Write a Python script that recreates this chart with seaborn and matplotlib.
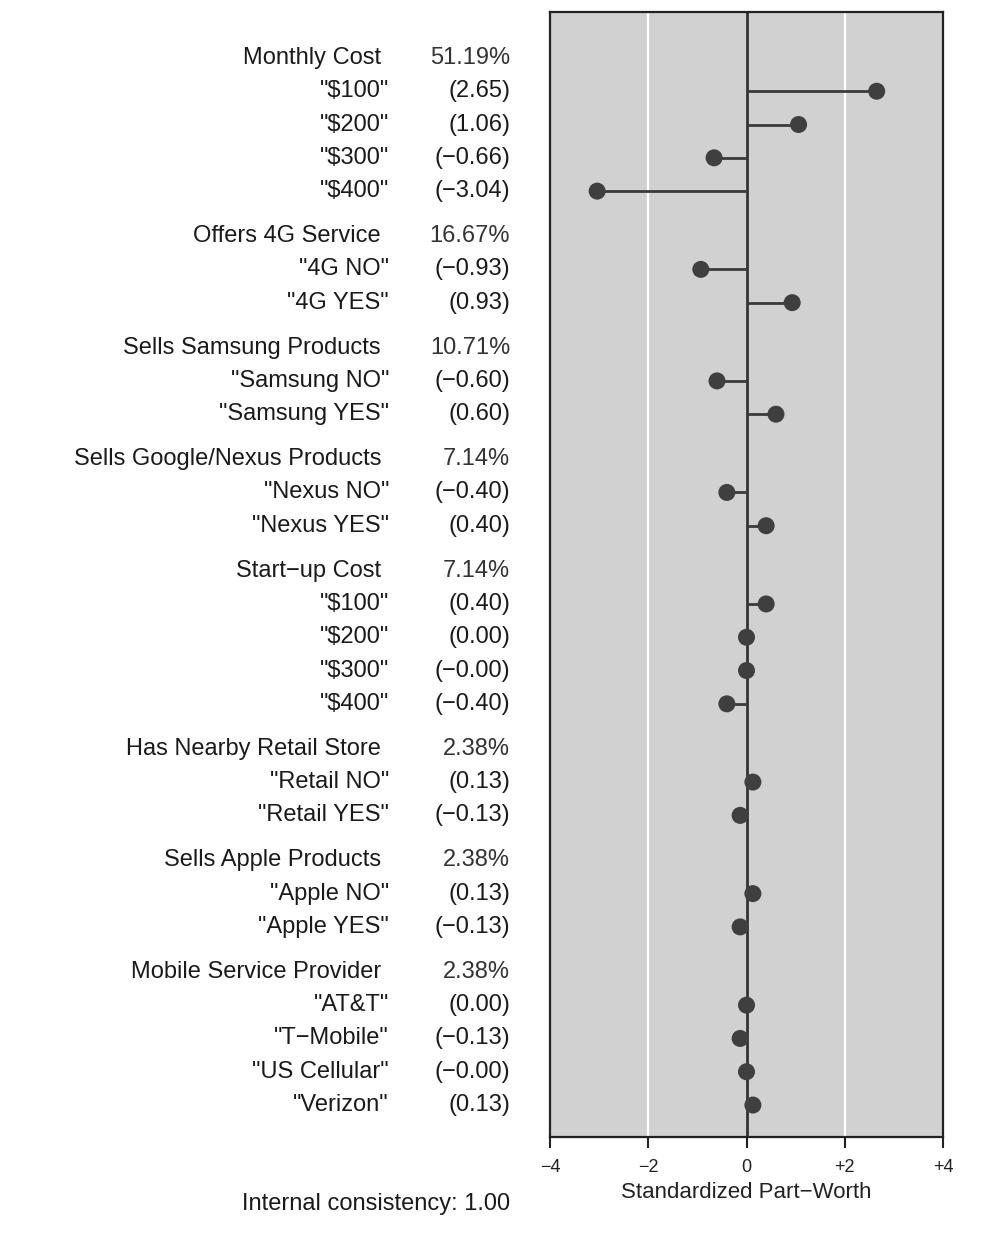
import numpy as np
import pandas as pd
import matplotlib
matplotlib.use("Agg")
import matplotlib.pyplot as plt
import matplotlib.transforms as mtransforms
import seaborn as sns

# attribute headers and their relative importance (%)
attributes = ['Monthly Cost', 'Offers 4G Service', 'Sells Samsung Products',
              'Sells Google/Nexus Products', 'Start\u2212up Cost',
              'Has Nearby Retail Store', 'Sells Apple Products',
              'Mobile Service Provider']
importance = [51.19, 16.67, 10.71, 7.14, 7.14, 2.38, 2.38, 2.38]

# levels of each attribute
levels = [
    ['$100', '$200', '$300', '$400'],
    ['4G NO', '4G YES'],
    ['Samsung NO', 'Samsung YES'],
    ['Nexus NO', 'Nexus YES'],
    ['$100', '$200', '$300', '$400'],
    ['Retail NO', 'Retail YES'],
    ['Apple NO', 'Apple YES'],
    ['AT&T', 'T\u2212Mobile', 'US Cellular', 'Verizon'],
]
# standardized part-worths
part_worths = [
    [2.65, 1.06, -0.66, -3.04],
    [-0.93, 0.93],
    [-0.60, 0.60],
    [-0.40, 0.40],
    [0.40, 0.00, -0.0, -0.40],
    [0.13, -0.13],
    [0.13, -0.13],
    [0.00, -0.13, -0.0, 0.13],
]
consistency = 1.00

# build row positions (header row, then levels; extra gap between groups)
rows = []
headers = []
y = 0.0
for i, attr in enumerate(attributes):
    if i > 0:
        y += 1.35
    headers.append((attr, importance[i], y))
    for lvl, val in zip(levels[i], part_worths[i]):
        y += 1
        rows.append({'attr': attr, 'level': lvl, 'value': val, 'y': y})
df = pd.DataFrame(rows)
y_last = y

W, H = 984, 1238
plt.rcParams['font.family'] = ['Liberation Sans', 'DejaVu Sans']
fig = plt.figure(figsize=(W / 100, H / 100), dpi=100)
ax = fig.add_axes([550 / W, 1 - 1137 / H, 393 / W, 1125 / H])
ax.set_facecolor('#d1d1d1')

for gx in [-2, 2]:
    ax.axvline(gx, color='white', lw=1.6, zorder=1)
ax.axvline(0, color='#333333', lw=2, zorder=2)

ax.hlines(df['y'], 0, df['value'], color='#3a3a3a', lw=2, zorder=3)
sns.scatterplot(data=df, x='value', y='y', ax=ax, s=150, color='#3f3f3f',
                edgecolor='none', zorder=4, legend=False)

ax.set_xlim(-4, 4)
ax.set_ylim(y_last + 0.96, -1.38)
ax.set_yticks([])
ax.set_ylabel('')
ax.set_xticks([-4, -2, 0, 2, 4])
ax.set_xticklabels(['\u22124', '\u22122', '0', '+2', '+4'], fontsize=13)
ax.tick_params(axis='x', length=8, width=1.5, color='#222222', pad=8,
               labelcolor='#222222')
ax.set_xlabel('Standardized Part\u2212Worth', fontsize=16, color='#222222',
              labelpad=4)
for sp in ax.spines.values():
    sp.set_color('#222222')
    sp.set_linewidth(1.6)

# labels to the left of the panel
tr = mtransforms.blended_transform_factory(fig.transFigure, ax.transData)
fs = 17
for attr, imp, hy in headers:
    ax.text(381 / W, hy, attr, transform=tr, ha='right', va='center',
            fontsize=fs, color='#1a1a1a')
    ax.text(510 / W, hy, f'{imp:.2f}%', transform=tr, ha='right', va='center',
            fontsize=fs, color='#333333')
for _, r in df.iterrows():
    ax.text(389 / W, r['y'], f'"{r["level"]}"', transform=tr, ha='right',
            va='center', fontsize=fs, color='#1a1a1a')
    ax.text(510 / W, r['y'], '(' + f'{r["value"]:.2f}'.replace('-', '\u2212') + ')',
            transform=tr, ha='right', va='center', fontsize=fs, color='#1a1a1a')

fig.text(510 / W, 1 - 1204 / H, f'Internal consistency: {consistency:.2f}',
         ha='right', va='center', fontsize=fs, color='#1a1a1a')

fig.savefig('out.png', dpi=100, facecolor='white')
